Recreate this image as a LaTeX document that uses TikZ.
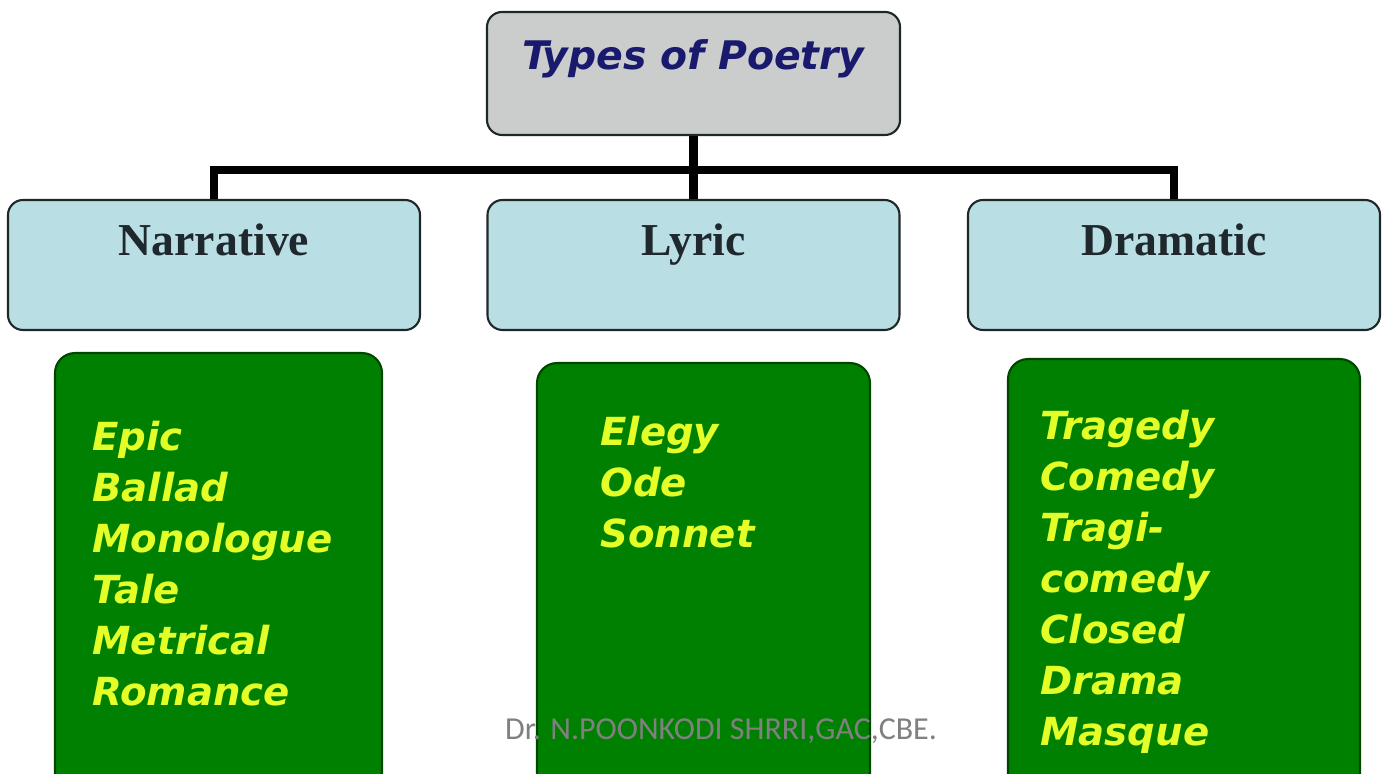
\documentclass[tikz,border=0pt]{standalone}
\usepackage{fontspec}
\usepackage{tikz}
\usetikzlibrary{positioning}
\newfontfamily\titlefont{DejaVu Sans}
\newfontfamily\headfont{Liberation Serif}
\newfontfamily\markfont{Carlito}
\definecolor{boxline}{RGB}{30,40,40}
\definecolor{topgray}{RGB}{202,205,204}
\definecolor{headblue}{RGB}{185,222,228}
\definecolor{headtext}{RGB}{30,40,45}
\definecolor{titleblue}{RGB}{25,25,110}
\definecolor{listgreen}{RGB}{0,128,0}
\definecolor{listedge}{RGB}{0,70,0}
\definecolor{listyellow}{RGB}{228,255,40}
\definecolor{markgray}{RGB}{128,128,128}

\begin{document}
\begin{tikzpicture}[
	toptype/.style={draw=boxline, line width=1.2pt, fill=topgray, rounded corners=0.3cm,
		minimum width=8.26cm, minimum height=2.46cm, inner xsep=0pt, inner ysep=0.1cm,
		text height=1.06cm, text depth=1.2cm, text=titleblue,
		font=\titlefont\bfseries\itshape\fontsize{22.4}{27}\selectfont},
	headtype/.style={draw=boxline, line width=1.2pt, fill=headblue, rounded corners=0.3cm,
		minimum width=8.24cm, minimum height=2.6cm, inner xsep=0pt, inner ysep=0.1cm,
		text height=1.02cm, text depth=1.38cm, text=headtext,
		font=\headfont\bfseries\fontsize{26}{30}\selectfont},
	listbox/.style={draw=listedge, line width=1.2pt, fill=listgreen, rounded corners=0.4cm,
		anchor=north, minimum height=10cm},
	listtext/.style={anchor=north west, inner sep=0pt, align=left, text=listyellow,
		font=\titlefont\bfseries\itshape\fontsize{22}{29}\selectfont},
	branch/.style={line width=5pt, black}
]
	\useasboundingbox (0,0) rectangle (27.66,15.48);
	\clip (0,0) rectangle (27.66,15.48);

	\coordinate (T)  at (13.87,14.01);
	\coordinate (N)  at (4.28,10.18);
	\coordinate (L)  at (13.87,10.18);
	\coordinate (D)  at (23.48,10.18);
	\coordinate (bar) at (13.87,12.08);

	\coordinate (Nb) at (4.37,8.44);
	\coordinate (Lb) at (14.07,8.24);
	\coordinate (Db) at (23.68,8.32);

	\node[toptype] (poetry) at (T) {Types of Poetry};
	\node[headtype] (narrative) at (N) {Narrative};
	\node[headtype] (lyric) at (L) {Lyric};
	\node[headtype] (dramatic) at (D) {Dramatic};

	\node[listbox, minimum width=6.54cm] (narrbox) at (Nb) {};
	\node[listbox, minimum width=6.66cm] (lyrbox) at (Lb) {};
	\node[listbox, minimum width=7.04cm] (drambox) at (Db) {};

	\node[listtext] (narrlist) at (1.84,7.06) {Epic\\Ballad\\Monologue\\Tale\\Metrical\\Romance};
	\node[listtext] (lyrlist) at (12.0,7.16) {Elegy\\Ode\\Sonnet};
	\node[listtext] (dramlist) at (20.8,7.28) {Tragedy\\Comedy\\Tragi-\\comedy\\Closed\\Drama\\Masque};

	\draw[branch] (poetry.south) -- (lyric.north);
	\draw[branch] (narrative.north) |- (bar) -| (dramatic.north);

	\node[anchor=base, inner sep=0pt, text=markgray, font=\markfont\fontsize{18.2}{20}\selectfont]
		(mark) at (14.42,0.68) {Dr. N.POONKODI SHRRI,GAC,CBE.};
\end{tikzpicture}
\end{document}
